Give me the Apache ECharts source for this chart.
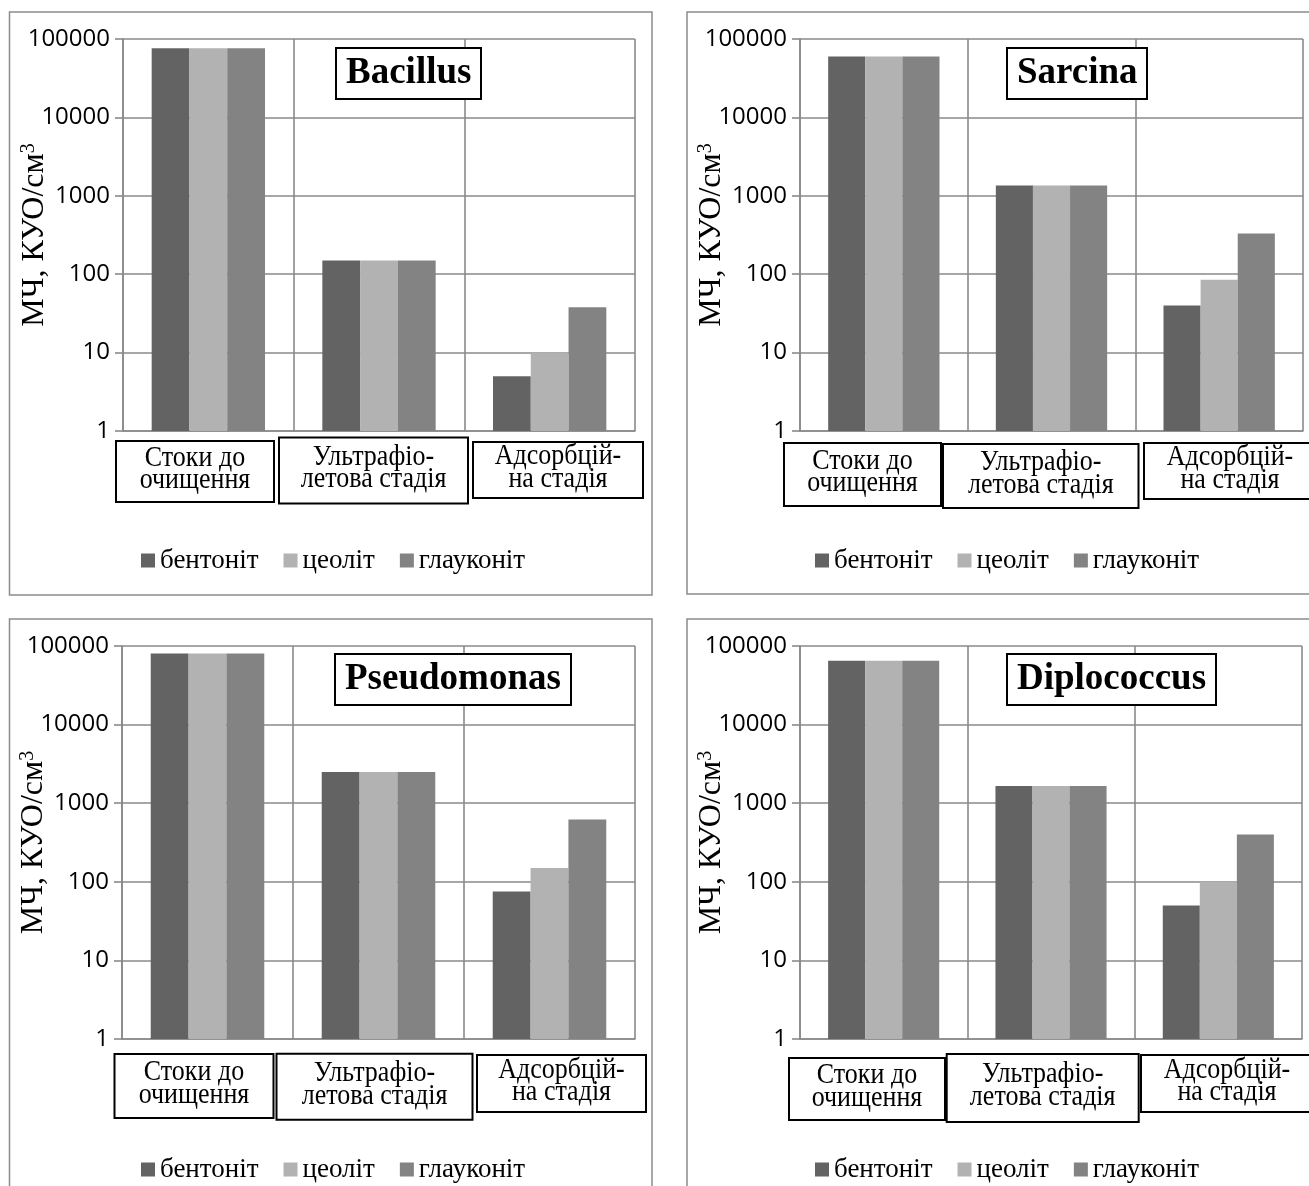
<!DOCTYPE html>
<html>
<head>
<meta charset="utf-8">
<script src="https://cdn.jsdelivr.net/npm/echarts@6/dist/echarts.min.js"></script>
<style>
  html, body { margin: 0; padding: 0; background: #fff; }
  #chart { width: 1309px; height: 1186px; }
</style>
</head>
<body>
<div id="chart"></div>
<script>
// Treatment stages (category axis)
const categories = ['Стоки до\nочищення', 'Ультрафіо-\nлетова стадія', 'Адсорбцій-\nна стадія'];
// Sorbents (series)
const materials = ['бентоніт', 'цеоліт', 'глауконіт'];
// Microorganisms, one panel each
const organisms = ['Bacillus', 'Sarcina', 'Pseudomonas', 'Diplococcus'];

// Microbial counts, CFU/cm³, per stage
const bacillusBentonite = [76000, 150, 5];
const bacillusZeolite = [76000, 150, 10];
const bacillusGlauconite = [76000, 150, 38];

const sarcinaBentonite = [60000, 1350, 40];
const sarcinaZeolite = [60000, 1350, 85];
const sarcinaGlauconite = [60000, 1350, 330];

const pseudomonasBentonite = [80000, 2500, 75];
const pseudomonasZeolite = [80000, 2500, 150];
const pseudomonasGlauconite = [80000, 2500, 620];

const diplococcusBentonite = [65000, 1650, 50];
const diplococcusZeolite = [65000, 1650, 100];
const diplococcusGlauconite = [65000, 1650, 400];

// Log-axis tick labels
const yTickLabels = ['1', '10', '100', '1000', '10000', '100000'];

const panelSeries = [
  [bacillusBentonite, bacillusZeolite, bacillusGlauconite],
  [sarcinaBentonite, sarcinaZeolite, sarcinaGlauconite],
  [pseudomonasBentonite, pseudomonasZeolite, pseudomonasGlauconite],
  [diplococcusBentonite, diplococcusZeolite, diplococcusGlauconite]
];

// ---- layout ----
const barColors = ['#636363', '#b2b2b2', '#838383'];
const gridColor = '#8a8a8a';
const serif = '"Liberation Serif", "Times New Roman", serif';
const sans = '"Open Sans", "Noto Sans", sans-serif';

const grids = [
  { left: 123, top: 39, width: 512, height: 392 },
  { left: 800, top: 39, width: 503, height: 392 },
  { left: 122, top: 646, width: 513, height: 393 },
  { left: 800, top: 646, width: 502, height: 393 }
].map(g => Object.assign({ outerBoundsMode: 'none', containLabel: false }, g));
const panelFrames = [
  [9.5, 12, 642.5, 583],
  [687, 12, 660, 582],
  [9.5, 619, 642.5, 620],
  [687, 619, 660, 620]
];
const titlePos = [[336, 48], [1007, 48], [335, 654], [1007, 654]];
const legendPos = [[136, 542], [810, 542], [136, 1151], [810, 1151]];
// label boxes under each stage: [x, y, w, h]
const catBoxes = [
  [[116, 441, 158, 61], [279, 437.5, 189, 66], [473, 442, 170, 56]],
  [[784, 443, 157, 63], [943, 444, 195.5, 64], [1144, 443, 172, 56]],
  [[114.5, 1054, 159, 64], [276.5, 1053.7, 196, 66], [477, 1055, 169, 57]],
  [[789, 1058, 156, 62], [946.7, 1054, 192, 68], [1141, 1055, 172, 57]]
];

const chart = echarts.init(document.getElementById('chart'), null, { renderer: 'canvas' });

const xAxes = grids.map((g, i) => ({
  type: 'category',
  gridIndex: i,
  data: categories,
  boundaryGap: true,
  axisLine: { show: true, lineStyle: { color: gridColor, width: 1.6 } },
  axisTick: { show: false },
  axisLabel: { show: false },
  splitLine: { show: true, interval: 0, lineStyle: { color: gridColor, width: 1.6 } }
}));

const yAxes = grids.map((g, i) => ({
  type: 'log',
  logBase: 10,
  gridIndex: i,
  min: 1,
  max: 100000,
  name: 'МЧ, КУО/см{sup|3}',
  nameLocation: 'middle',
  nameRotate: 90,
  nameGap: 72,
  nameMoveOverlap: false,
  nameTextStyle: {
    fontFamily: serif,
    fontSize: 32,
    color: '#000',
    rich: {
      sup: { fontFamily: serif, fontSize: 20, color: '#000', verticalAlign: 'top', padding: [0, 0, 12, 0] }
    }
  },
  axisLine: { show: true, lineStyle: { color: gridColor, width: 1.6 } },
  axisTick: { show: true, length: 8, lineStyle: { color: gridColor, width: 1.6 } },
  axisLabel: {
    margin: 13,
    fontFamily: sans,
    fontSize: 24,
    color: '#000',
    formatter: v => yTickLabels[Math.round(Math.log10(v))]
  },
  splitLine: { show: true, lineStyle: { color: gridColor, width: 1.6 } }
}));

const series = [];
panelSeries.forEach((sets, p) => {
  sets.forEach((vals, m) => {
    series.push({
      type: 'bar',
      name: materials[m],
      xAxisIndex: p,
      yAxisIndex: p,
      data: vals,
      barGap: '0%',
      barCategoryGap: '33.6%',
      itemStyle: { color: barColors[m] },
      emphasis: { disabled: true }
    });
  });
});

const titles = organisms.map((name, i) => ({
  text: name,
  left: titlePos[i][0],
  top: titlePos[i][1],
  padding: [7, 10],
  borderColor: '#000',
  borderWidth: 2,
  backgroundColor: '#fff',
  textStyle: { fontFamily: serif, fontWeight: 'bold', fontSize: 37, lineHeight: 37, color: '#000' }
}));

const legends = legendPos.map(pos => ({
  data: materials,
  left: pos[0],
  top: pos[1],
  icon: 'rect',
  itemWidth: 14,
  itemHeight: 14,
  itemGap: 25,
  textStyle: { fontFamily: serif, fontSize: 27, color: '#000' }
}));

const graphics = [];
panelFrames.forEach(f => {
  graphics.push({
    type: 'rect',
    z: -10,
    silent: true,
    shape: { x: f[0], y: f[1], width: f[2], height: f[3] },
    style: { fill: 'none', stroke: '#8c8c8c', lineWidth: 1.5 }
  });
});
catBoxes.forEach(boxes => {
  boxes.forEach((b, c) => {
    graphics.push({
      type: 'group',
      z: 10,
      silent: true,
      children: [
        {
          type: 'rect',
          shape: { x: b[0], y: b[1], width: b[2], height: b[3] },
          style: { fill: '#fff', stroke: '#000', lineWidth: 2 }
        },
        {
          type: 'text',
          x: b[0] + b[2] / 2,
          y: b[1] + b[3] / 2 - 2,
          scaleY: 1.12,
          style: {
            text: categories[c],
            x: 0,
            y: 0,
            align: 'center',
            verticalAlign: 'middle',
            fontFamily: serif,
            fontSize: 26,
            lineHeight: 20,
            fill: '#000'
          }
        }
      ]
    });
  });
});

chart.setOption({
  animation: false,
  backgroundColor: '#fff',
  title: titles,
  legend: legends,
  grid: grids,
  xAxis: xAxes,
  yAxis: yAxes,
  series: series,
  graphic: graphics
});
</script>
</body>
</html>
